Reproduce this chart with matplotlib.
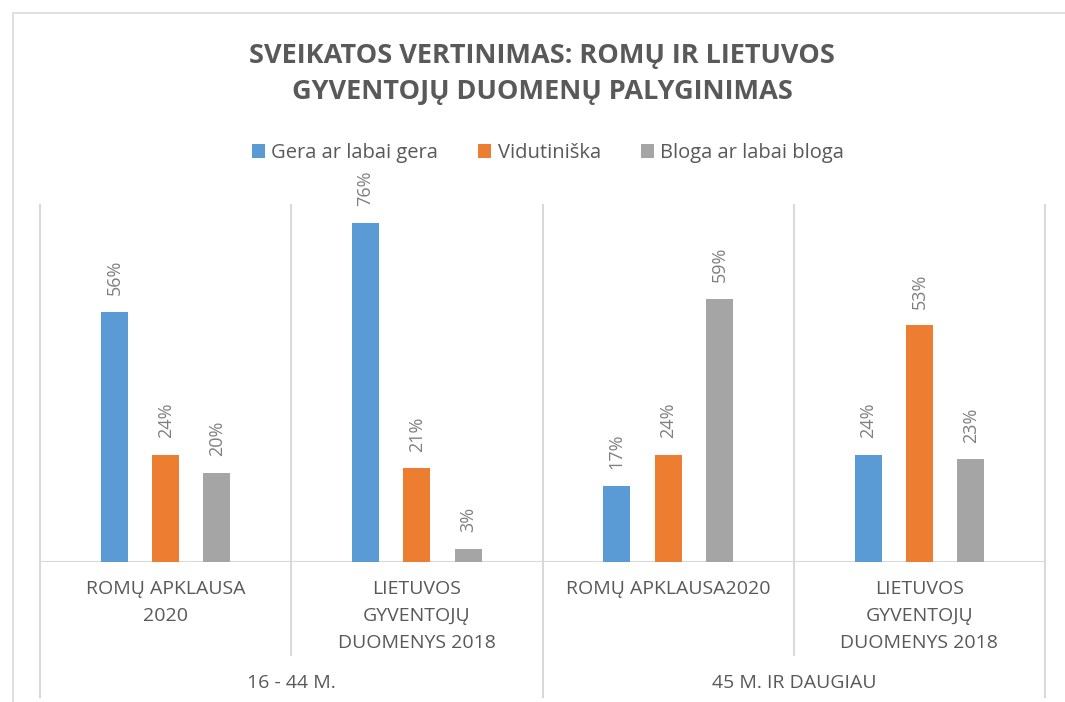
import matplotlib
matplotlib.use('Agg')
import matplotlib.pyplot as plt
from matplotlib.patches import Patch, Rectangle
import numpy as np

plt.rcParams['font.family'] = ['Open Sans', 'DejaVu Sans']

title = 'SVEIKATOS VERTINIMAS: ROMŲ IR LIETUVOS\nGYVENTOJŲ DUOMENŲ PALYGINIMAS'
series = ['Gera ar labai gera', 'Vidutiniška', 'Bloga ar labai bloga']
colors = ['#5B9BD5', '#ED7D31', '#A5A5A5']
categories = ['ROMŲ APKLAUSA\n2020', 'LIETUVOS\nGYVENTOJŲ\nDUOMENYS 2018',
              'ROMŲ APKLAUSA2020', 'LIETUVOS\nGYVENTOJŲ\nDUOMENYS 2018']
groups = ['16 - 44 M.', '45 M. IR DAUGIAU']
gera = [0.56, 0.76, 0.17, 0.24]
vidutiniska = [0.24, 0.21, 0.24, 0.53]
bloga = [0.20, 0.03, 0.59, 0.23]
values = [gera, vidutiniska, bloga]

W, H = 1065, 702
fig = plt.figure(figsize=(W / 100, H / 100), dpi=100)

# outer chart border (cut off at right and bottom like the reference)
fig.patches.append(Rectangle((13 / W, -0.1), 1.2, 1 - 13 / H + 0.1, transform=fig.transFigure,
                             fill=False, ec='#d9d9d9', lw=1.2))

ax = fig.add_axes([40 / W, (H - 562) / H, (1045 - 40) / W, (562 - 205) / H])
ax.set_xlim(-0.5, 3.5)
ax.set_ylim(0, 0.8)
for s in ax.spines.values():
    s.set_visible(False)
ax.set_xticks([])
ax.set_yticks([])

x = np.arange(len(categories))
width = 0.108
step = 0.204
for i, (vals, col) in enumerate(zip(values, colors)):
    xs = x + (i - 1) * step
    ax.bar(xs, vals, width, color=col, zorder=3)
    for xi, v in zip(xs, vals):
        ax.annotate(f'{v * 100:.0f}%', (xi, v), xytext=(0, 12), textcoords='offset points',
                    rotation=90, ha='center', va='bottom', fontsize=13, color='#7f7f7f')

# baseline and separators
ax.axhline(0, color='#d9d9d9', lw=1.5, zorder=2)
trans = ax.get_xaxis_transform()
grid_col = '#d9d9d9'
for xv in [-0.5, 1.5, 3.5]:
    ax.plot([xv, xv], [-(697 - 562) / 357, 1], transform=trans, color=grid_col, lw=1.5, clip_on=False)
for xv in [0.5, 2.5]:
    ax.plot([xv, xv], [-(655 - 562) / 357, 1], transform=trans, color=grid_col, lw=1.5, clip_on=False)

for xi, lab in zip(x, categories):
    ax.text(xi, -(580 - 562) / 357, lab, transform=trans, ha='center', va='top',
            fontsize=14, color='#595959', linespacing=1.65)
for gi, g in enumerate(groups):
    ax.text(gi * 2 + 0.5, -(683 - 562) / 357, g, transform=trans, ha='center', va='center',
            fontsize=14, color='#595959')

fig.text(542 / W, 1 - 74 / H, title, ha='center', va='center', fontsize=19.5,
         fontweight='bold', color='#595959', linespacing=1.5)

handles = [Patch(facecolor=c, label=s) for c, s in zip(colors, series)]
fig.legend(handles=handles, loc='center', bbox_to_anchor=(548 / W, 1 - 153 / H), ncol=3,
           frameon=False, fontsize=14.5, handlelength=0.65, handleheight=0.65,
           handletextpad=0.3, columnspacing=2.0, labelcolor='#595959')

fig.savefig('out.png', dpi=100)
